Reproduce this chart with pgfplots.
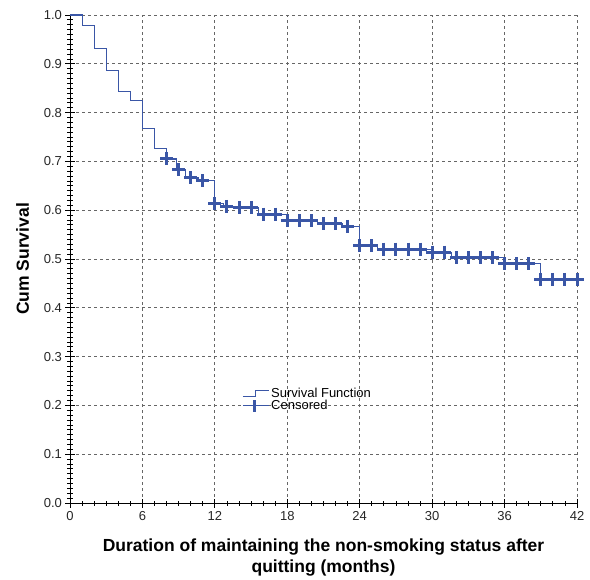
\documentclass[border=0pt]{standalone}
\usepackage{pgfplots}
\pgfplotsset{compat=1.18}
\usepackage{fontspec}
\setmainfont{Liberation Sans}
\definecolor{spssblue}{HTML}{3A56A6}

\begin{document}
\begin{tikzpicture}
\begin{axis}[
  width=507pt, height=488pt, scale only axis,
  xmin=0, xmax=42, ymin=0, ymax=1,
  axis lines=left, axis line style={-, black, line width=0.9pt},
  xtick={0,6,...,42}, ytick={0,0.1,...,1.0},
  minor x tick num=5, minor y tick num=9,
  tick align=center, major tick length=9pt, minor tick length=5pt,
  tick style={black, line width=0.8pt},
  grid=major, major grid style={dashed, gray!80!black, line width=0.8pt},
  /pgf/number format/assume math mode=true,
  tick label style={font=\fontsize{13}{15}\selectfont, text=black!85},
  yticklabel style={/pgf/number format/fixed, /pgf/number format/precision=1, /pgf/number format/fixed zerofill},
  xlabel={Duration of maintaining the non-smoking status after\\quitting (months)},
  xlabel style={font=\fontsize{17.5}{21}\selectfont\bfseries, align=center, yshift=-12pt},
  ylabel={Cum Survival},
  ylabel style={font=\fontsize{17.5}{21}\selectfont\bfseries, yshift=8pt},
  legend style={at={(axis cs:14.25,0.212)}, anchor=west, draw=none, fill=none,
    font=\fontsize{13}{14}\selectfont, row sep=-3pt, inner sep=0pt,
    /tikz/every even column/.append style={column sep=1pt}},
  legend cell align=left,
]
\addplot[const plot, spssblue, line width=1.1pt,
  legend image code/.code={\draw[spssblue, line width=0.9pt] (0cm,-2.5pt) -- (0.45cm,-2.5pt) -- (0.45cm,3pt) -- (0.9cm,3pt);}]
coordinates {
(0,1.000) (1,0.978) (2,0.932) (3,0.887) (4,0.843) (5,0.824) (6,0.768)
(7,0.727) (8,0.705) (8.8,0.683) (9.6,0.666) (10.6,0.660) (12,0.613)
(12.7,0.608) (13.5,0.606) (15.6,0.592) (18,0.578) (20.5,0.572) (22.6,0.567)
(24,0.527) (25.5,0.520) (30,0.514) (31.6,0.503) (36,0.490) (39,0.458) (42,0.458)
};
\addlegendentry{Survival Function}
\addplot[only marks, mark=+, spssblue, mark size=6.5pt, mark options={line width=3pt},
  legend image code/.code={\draw[spssblue, line width=1.4pt] (0cm,0cm) -- (0.9cm,0cm); \draw[spssblue, line width=2.4pt] (0.4cm,-6pt) -- (0.4cm,6pt);}]
coordinates {
(8,0.705) (9,0.683) (10,0.666) (11,0.660) (12,0.613) (13,0.608) (14,0.606)
(15,0.606) (16,0.592) (17,0.592) (18,0.578) (19,0.578) (20,0.578) (21,0.572)
(22,0.572) (23,0.567) (24,0.527) (25,0.527) (26,0.520) (27,0.520) (28,0.520)
(29,0.520) (30,0.514) (31,0.514) (32,0.503) (33,0.503) (34,0.503) (35,0.503)
(36,0.490) (37,0.490) (38,0.490) (39,0.458) (40,0.458) (41,0.458) (42,0.458)
};
\addlegendentry{Censored}
\coordinate (bbsw) at (rel axis cs:0,0);
\coordinate (bbne) at (rel axis cs:1,1);
\end{axis}
\path ([xshift=-70pt,yshift=-72pt]bbsw) rectangle ([xshift=13pt,yshift=15pt]bbne);
\end{tikzpicture}
\end{document}
